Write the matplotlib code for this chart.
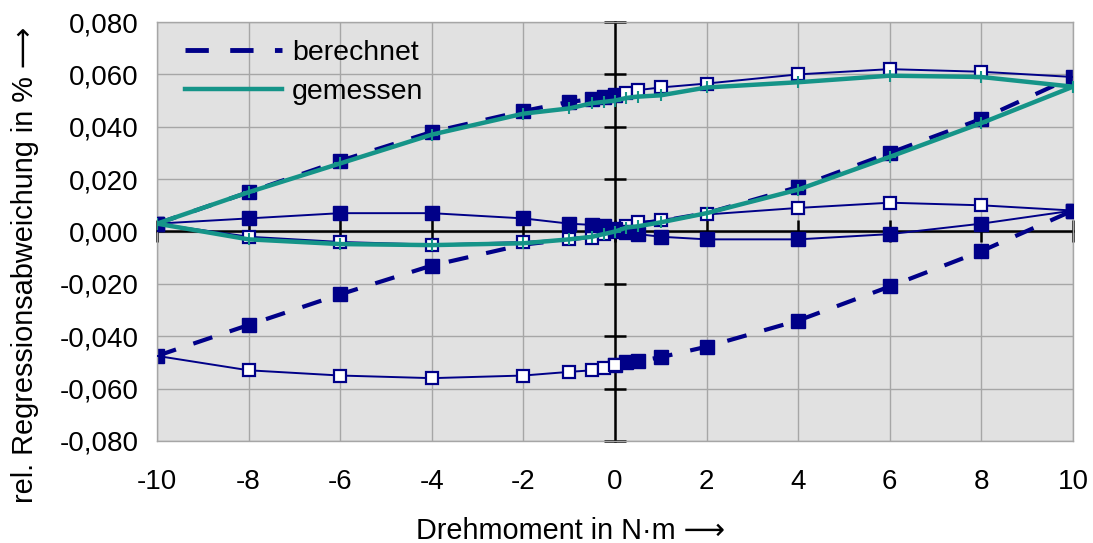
import numpy as np
import matplotlib.pyplot as plt
from matplotlib.lines import Line2D

plt.rcParams['font.family'] = ['Liberation Sans', 'DejaVu Sans']

# Drehmoment-Stuetzstellen
x_voll = [-10, -8, -6, -4, -2, -1, -0.5, -0.25, 0, 0.25, 0.5, 1, 2, 4, 6, 8, 10]
x_links = [-10, -8, -6, -4, -2, -1, -0.5, -0.25, 0]
x_rechts = [0, 0.25, 0.5, 1, 2, 4, 6, 8, 10]

# berechnet (gestrichelt)
ber_oben_links = [0.003, 0.015, 0.027, 0.038, 0.046, 0.0495, 0.0505, 0.0515, 0.052]
ber_lang = [-0.0475, -0.0357, -0.024, -0.013, -0.005, -0.003, -0.002, -0.001, 0.000,
            0.002, 0.003, 0.004, 0.007, 0.017, 0.030, 0.043, 0.059]
ber_unten_rechts = [-0.051, -0.050, -0.0495, -0.048, -0.044, -0.034, -0.021, -0.0075, 0.008]

# Einzelverlaeufe (duenn, Quadrate)
hohl_oben_rechts = [0.052, 0.053, 0.054, 0.055, 0.0565, 0.060, 0.062, 0.061, 0.059]
hohl_unten_links = [-0.0475, -0.053, -0.055, -0.056, -0.055, -0.0536, -0.053, -0.052, -0.051]
voll_null = [0.003, 0.005, 0.007, 0.007, 0.005, 0.003, 0.0025, 0.002, 0.001,
             0.000, -0.001, -0.002, -0.003, -0.003, -0.001, 0.003, 0.008]
hohl_null = [0.003, -0.002, -0.004, -0.005, -0.004, -0.003, -0.0025, -0.001, 0.000,
             0.002, 0.0035, 0.0045, 0.0065, 0.009, 0.011, 0.010, 0.008]

# gemessen (Hystereseschleife)
mess_auf = [0.003, 0.015, 0.026, 0.037, 0.045, 0.047, 0.049, 0.0495, 0.050,
            0.051, 0.0515, 0.052, 0.055, 0.057, 0.0595, 0.059, 0.0553]
mess_ab = [0.003, -0.003, -0.0048, -0.0052, -0.0045, -0.003, -0.002, -0.001, 0.000,
           0.0015, 0.002, 0.0035, 0.007, 0.016, 0.0285, 0.0414, 0.0553]

x_ticks = [-10, -8, -6, -4, -2, 0, 2, 4, 6, 8, 10]
y_ticks = [-0.08, -0.06, -0.04, -0.02, 0.0, 0.02, 0.04, 0.06, 0.08]

navy = '#000088'
teal = '#159488'
grau = '#a6a6a6'

fig = plt.figure(figsize=(10.93, 5.43), dpi=100)
ax = fig.add_axes([157 / 1093, 1 - 441 / 543, 916 / 1093, 419 / 543])
ax.set_facecolor('#e1e1e1')
ax.set_xlim(-10, 10)
ax.set_ylim(-0.08, 0.08)
ax.set_xticks(x_ticks)
ax.set_yticks(y_ticks)
ax.set_xticklabels([str(v) for v in x_ticks])
ax.set_yticklabels([('%.3f' % v).replace('.', ',') for v in y_ticks])
ax.tick_params(length=0, labelsize=20)
ax.tick_params(axis='y', pad=13)
ax.tick_params(axis='x', pad=20)
ax.grid(True, color=grau, lw=1)
ax.set_axisbelow(True)
for sp in ax.spines.values():
    sp.set_color(grau)
    sp.set_linewidth(1)

# schwarze Achsen durch den Nullpunkt
sx = ax.secondary_xaxis(0.5)
sx.set_xticks(x_ticks)
sx.tick_params(direction='inout', length=16, width=1.8, color='k',
               labelbottom=False, labeltop=False)
sy = ax.secondary_yaxis(0.5)
sy.set_yticks(y_ticks)
sy.tick_params(direction='inout', length=16, width=1.8, color='k',
               labelleft=False, labelright=False)
for s in (sx, sy):
    for sp in s.spines.values():
        sp.set_color('k')
        sp.set_linewidth(1.8)
    s.set_zorder(1)

dash = dict(color=navy, lw=3, dashes=(4.8, 4.4), marker='s', ms=10,
            mfc=navy, mec=navy, zorder=2)
ax.plot(x_links, ber_oben_links, **dash)
ax.plot(x_voll, ber_lang, markevery=[0, 1, 2, 3, 13, 14, 15, 16], **dash)
ax.plot(x_rechts, ber_unten_rechts, **dash)

hohl = dict(color=navy, lw=1.4, marker='s', ms=9, mfc='white', mec=navy, mew=1.6, zorder=3)
ax.plot(x_rechts, hohl_oben_rechts, markevery=list(range(1, 8)), **hohl)
ax.plot(x_links, hohl_unten_links, markevery=list(range(1, 9)), **hohl)
ax.plot(x_voll, hohl_null, **hohl)
ax.plot(x_voll, voll_null, color=navy, lw=1.4, marker='s', ms=10, mfc=navy, mec=navy, zorder=4)

ax.plot(x_voll, mess_auf, color=teal, lw=3.2, marker='+', ms=8, mew=1.5, zorder=5)
ax.plot(x_voll, mess_ab, color=teal, lw=3.2, marker='+', ms=8, mew=1.5, zorder=5)

handles = [Line2D([], [], color=navy, lw=3.5, dashes=(4.8, 4.4)),
           Line2D([], [], color=teal, lw=3.2)]
ax.legend(handles, ['berechnet', 'gemessen'], loc='upper left',
          bbox_to_anchor=(185 / 1093, 1 - 40 / 543), bbox_transform=fig.transFigure,
          frameon=False, fontsize=20.5, handlelength=3.4, handletextpad=0.35,
          labelspacing=0.45, borderpad=0, borderaxespad=0)

fig.text(570 / 1093, 1 - 531 / 543, 'Drehmoment in N·m ⟶', fontsize=20.8,
         ha='center', va='center')
fig.text(25 / 1093, 1 - 265 / 543, 'rel. Regressionsabweichung in % ⟶', fontsize=20.8,
         rotation=90, ha='center', va='center')

fig.savefig('out.png', dpi=100)
